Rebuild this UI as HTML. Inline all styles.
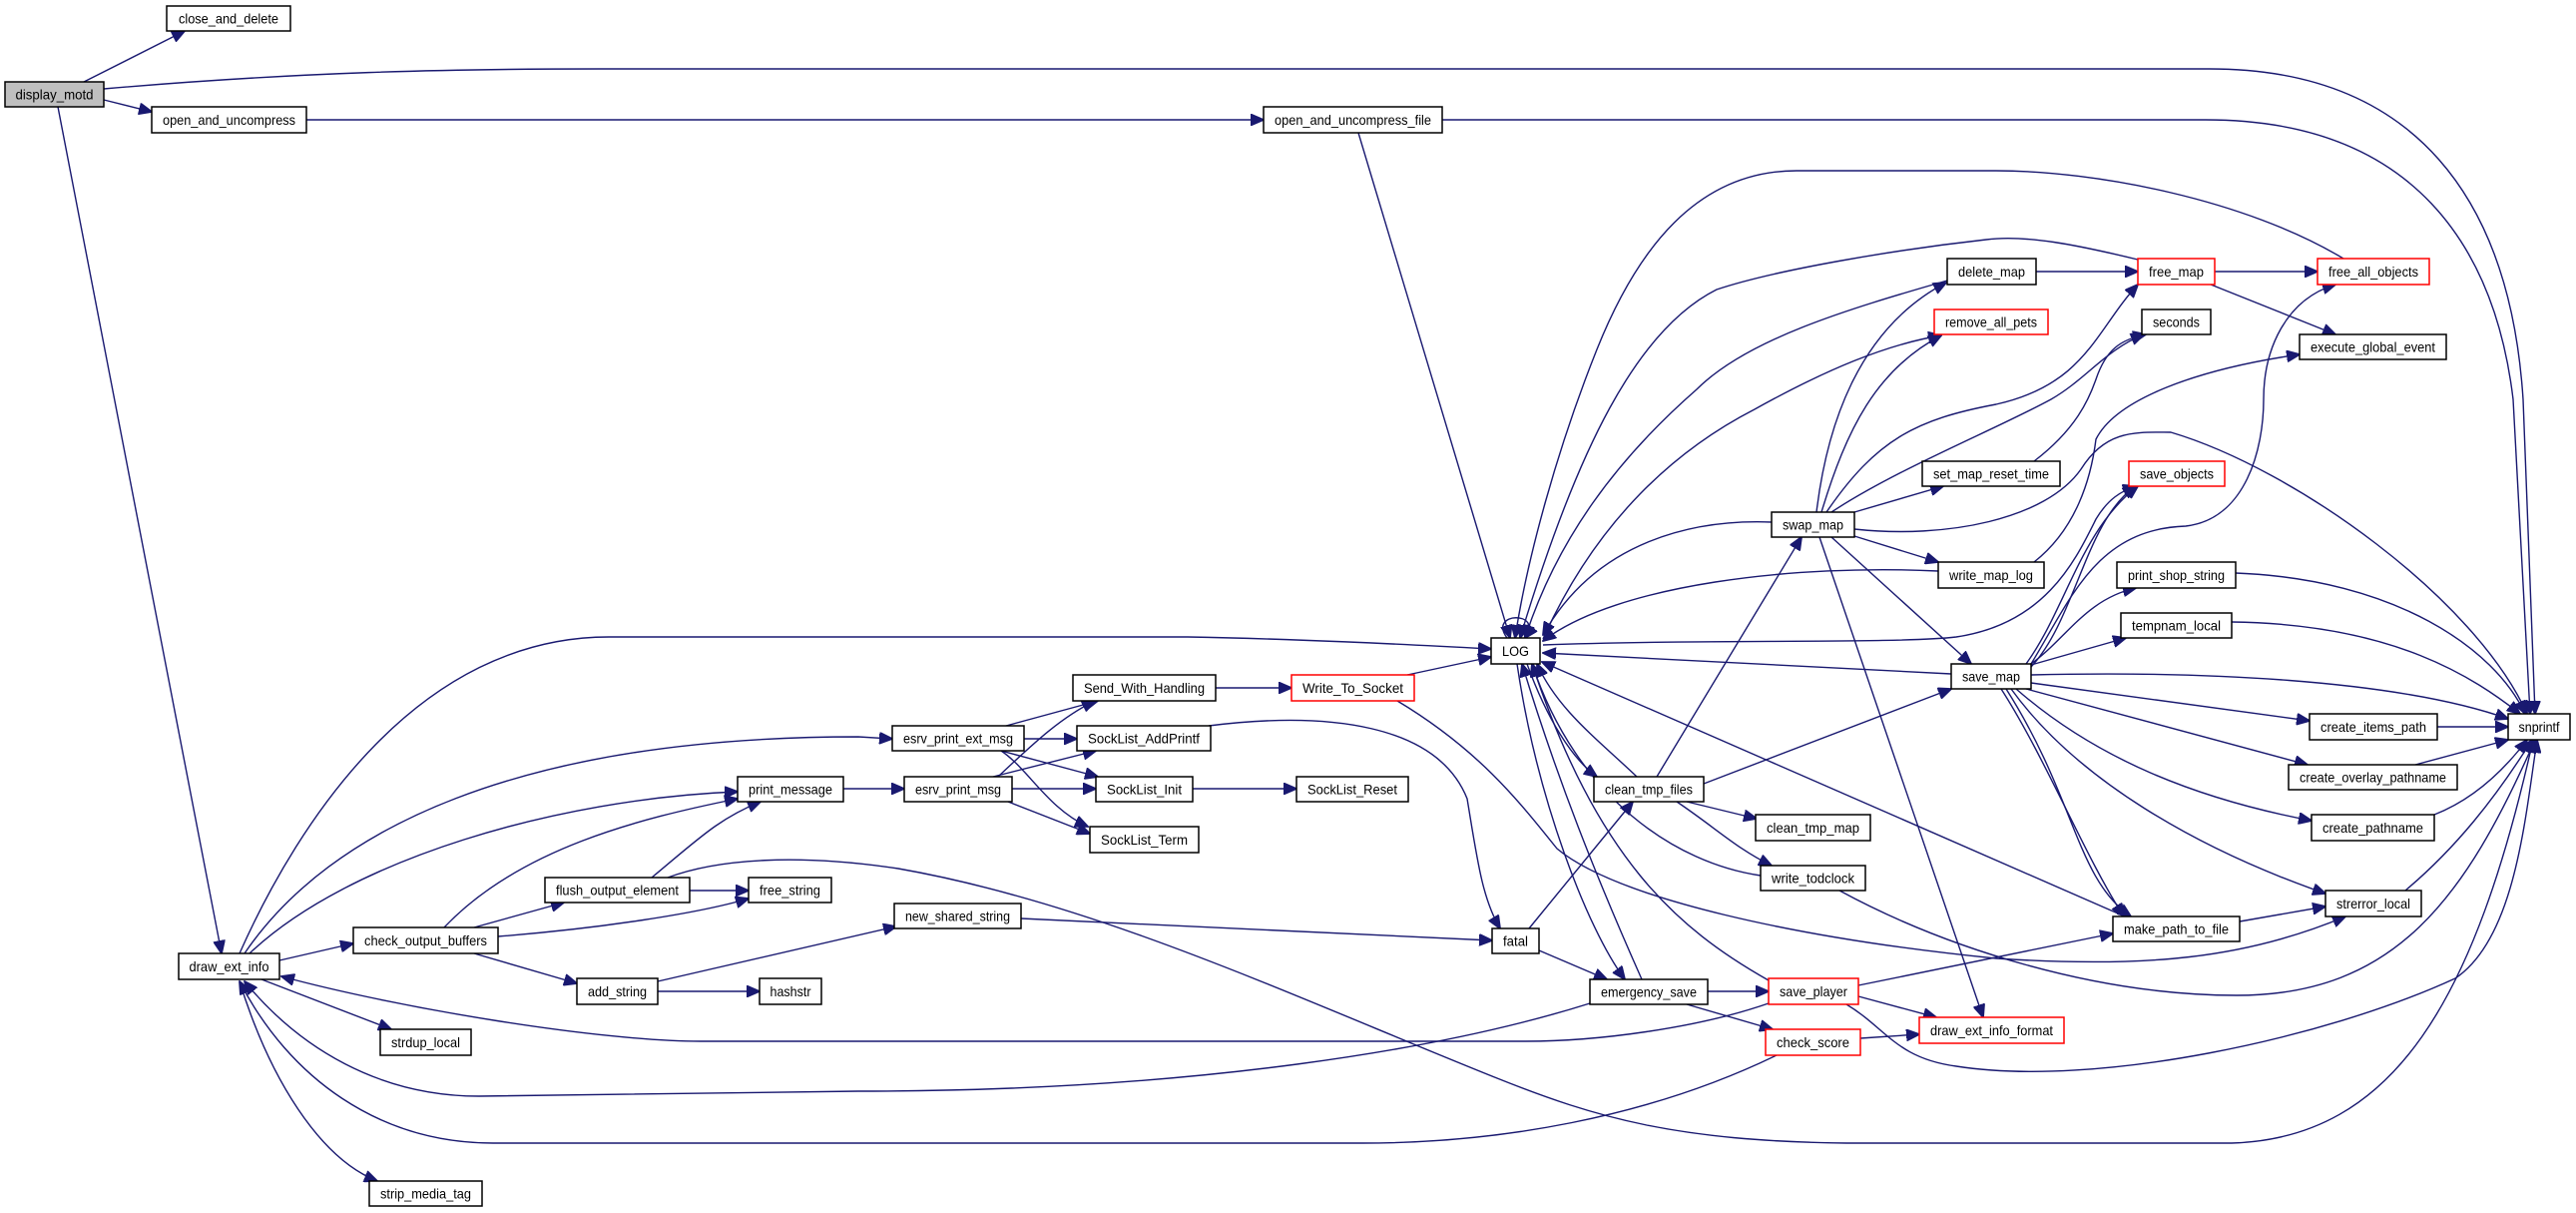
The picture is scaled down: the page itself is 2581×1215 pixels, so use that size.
<!DOCTYPE html>
<html><head><meta charset="utf-8"><style>
html,body{margin:0;padding:0;background:#fff;}
svg{display:block;}
text{font-family:"Liberation Sans",sans-serif;font-size:14px;text-anchor:middle;fill:#000;}
rect{fill:#fff;stroke:#000;stroke-width:1.5;}
rect.r{stroke:#ff0000;}
rect.g{fill:#bfbfbf;}
path{fill:none;stroke:#191970;stroke-width:1.4;marker-end:url(#a);}
</style></head><body>
<svg width="2581" height="1215" viewBox="0 0 2581 1215" xmlns="http://www.w3.org/2000/svg">
<defs><marker id="a" markerUnits="userSpaceOnUse" markerWidth="14" markerHeight="12" refX="13" refY="6" orient="auto"><path d="M0,0 L14,6 L0,12 z" style="fill:#191970;stroke:#191970;stroke-width:1;marker-end:none"/></marker></defs>

<!-- edges -->
<path d="M84,82 L185,31"/>
<path d="M104,89 C300,72 450,69 600,69 L2214,69 C2420,69 2515,200 2528,400 L2540,715"/>
<path d="M104,100 L152,112"/>
<path d="M58,107 L222,955"/>
<path d="M307,120 L1266,120"/>
<path d="M1445,120 L2210,120 C2420,120 2500,250 2518,400 L2535,715"/>
<path d="M1361,133 L1513,639"/>
<path d="M240,955 C300,820 420,638 610,638 L1190,638 C1300,640 1400,645 1494,650"/>
<path d="M245,955 C330,830 520,738 860,738 L894,740"/>
<path d="M250,955 C350,860 560,800 739,793"/>
<path d="M445,929 C520,850 640,820 739,800"/>
<path d="M653,879 C700,840 720,820 762,803"/>
<path d="M280,962 L354,945"/>
<path d="M262,981 L392,1031"/>
<path d="M240,983 C270,1080 320,1160 378,1183"/>
<path d="M475,929 L565,904"/>
<path d="M499,938 C600,930 700,915 750,900"/>
<path d="M475,955 L578,985"/>
<path d="M691,892 L750,892"/>
<path d="M669,879 C720,860 800,855 900,870 C1100,905 1300,1000 1500,1080 C1600,1120 1680,1143 1850,1145 L2236,1145 C2400,1140 2480,1000 2538,741"/>
<path d="M1780,1057 C1650,1120 1500,1145 1365,1145 L494,1145 C380,1145 290,1080 240,983"/>
<path d="M1772,1005 C1700,1030 1600,1043 1529,1043 L702,1043 C600,1043 400,1010 282,978"/>
<path d="M1593,1005 C1450,1050 1200,1093 860,1093 L480,1098 C380,1098 300,1050 245,983"/>
<path d="M1008,727 L1100,702"/>
<path d="M1026,740 L1079,740"/>
<path d="M1003,752 L1100,778"/>
<path d="M1003,752 C1030,770 1050,810 1090,828"/>
<path d="M845,790 L906,790"/>
<path d="M1000,778 C1030,750 1060,720 1097,702"/>
<path d="M995,778 L1098,752"/>
<path d="M1014,790 L1098,790"/>
<path d="M1010,803 L1092,835"/>
<path d="M1218,689 L1294,689"/>
<path d="M1410,676 L1494,658"/>
<path d="M1400,702 C1480,750 1520,800 1560,850 C1620,900 1800,940 2000,960 C2150,970 2250,960 2350,918"/>
<path d="M1211,727 C1330,712 1440,725 1470,800 C1480,860 1485,900 1503,930"/>
<path d="M1195,790 L1299,790"/>
<path d="M1023,920 L1495,942"/>
<path d="M659,983 L898,928"/>
<path d="M659,993 L761,993"/>
<path d="M1542,952 L1610,981"/>
<path d="M1532,930 L1636,803"/>
<path d="M1520,665 C1540,800 1590,930 1628,981"/>
<path d="M1645,981 C1600,880 1560,780 1525,665"/>
<path d="M1711,993 L1772,993"/>
<path d="M1690,1006 L1776,1031"/>
<path d="M1772,982 C1680,930 1600,860 1535,665"/>
<path d="M1862,987 L2117,935"/>
<path d="M1862,998 L1940,1019"/>
<path d="M1850,1006 C1890,1030 1900,1060 1960,1068 C2100,1090 2330,1040 2460,980 C2520,940 2530,820 2542,741"/>
<path d="M1864,1040 L1923,1036"/>
<path d="M1823,538 L1987,1019"/>
<path d="M1530,665 C1550,720 1575,760 1600,778"/>
<path d="M1640,778 C1600,740 1560,710 1540,665"/>
<path d="M1660,778 L1805,538"/>
<path d="M1707,785 L1955,690"/>
<path d="M1690,803 L1760,820"/>
<path d="M1680,803 C1720,830 1740,850 1775,867"/>
<path d="M2129,918 L1545,663"/>
<path d="M1764,877 C1680,865 1580,800 1535,665"/>
<path d="M1843,892 C1950,950 2100,997 2241,997 C2400,997 2470,900 2540,741"/>
<path d="M1775,523 C1700,520 1600,540 1546,636"/>
<path d="M1942,572 C1800,565 1620,585 1546,642"/>
<path d="M1955,675 L1546,654"/>
<path d="M1546,646 C1700,640 1900,645 1960,638 C2050,625 2080,560 2100,520 C2112,500 2125,492 2140,487"/>
<path d="M2348,259 C2250,200 2100,171 2000,171 L1800,171 C1700,171 1640,250 1600,350 C1560,450 1530,560 1518,639"/>
<path d="M2142,260 C2080,245 2030,235 1990,240 C1900,250 1780,270 1720,290 C1640,330 1580,450 1523,639"/>
<path d="M1951,281 C1850,310 1750,340 1700,390 C1620,460 1560,540 1528,639"/>
<path d="M1546,640 C1600,520 1680,450 1758,410 C1830,370 1890,345 1945,336"/>
<path d="M1820,513 C1830,430 1860,330 1950,283"/>
<path d="M1825,513 C1850,430 1880,370 1945,336"/>
<path d="M1830,513 C1880,440 1920,420 2000,405 C2090,385 2100,330 2142,285"/>
<path d="M1835,513 C1900,470 2000,430 2055,400 C2090,380 2110,350 2148,335"/>
<path d="M2038,462 C2080,430 2093,400 2100,380 C2110,350 2125,340 2150,335"/>
<path d="M2038,563 C2080,530 2095,480 2100,440 C2120,400 2200,370 2304,355"/>
<path d="M2035,665 C2075,600 2100,530 2190,527 C2250,520 2268,450 2268,400 C2268,350 2290,300 2340,285"/>
<path d="M1858,530 C1950,540 2050,520 2085,470 C2110,430 2140,433 2175,433 C2300,470 2480,600 2532,715"/>
<path d="M2040,272 L2142,272"/>
<path d="M2219,272 L2322,272"/>
<path d="M2215,285 L2340,335"/>
<path d="M2035,668 C2080,620 2090,520 2140,487"/>
<path d="M2030,665 C2070,610 2085,530 2142,487"/>
<path d="M2035,665 C2070,640 2090,600 2140,589"/>
<path d="M2035,666 L2130,639"/>
<path d="M2035,676 C2200,672 2400,680 2513,720"/>
<path d="M2035,684 L2314,722"/>
<path d="M2030,690 L2312,766"/>
<path d="M2020,690 C2100,760 2200,800 2316,822"/>
<path d="M2015,690 C2080,780 2200,850 2330,895"/>
<path d="M2010,690 C2080,800 2080,880 2135,918"/>
<path d="M2005,690 C2050,760 2090,860 2128,918"/>
<path d="M1835,538 L1975,665"/>
<path d="M1858,537 L1942,563"/>
<path d="M1858,513 L1947,487"/>
<path d="M2240,574 C2400,580 2500,650 2530,715"/>
<path d="M2236,623 C2400,625 2480,680 2525,715"/>
<path d="M2442,728 L2513,728"/>
<path d="M2420,766 L2513,741"/>
<path d="M2439,816 C2480,800 2510,770 2532,741"/>
<path d="M2410,892 C2460,850 2500,800 2537,741"/>
<path d="M2244,923 L2330,908"/>
<path d="M1510,639 C1490,612 1548,612 1528,639"/>

<!-- nodes -->
<rect class="g" x="5" y="82" width="99" height="25"/><text x="54.5" y="99.5" textLength="78" lengthAdjust="spacingAndGlyphs">display_motd</text>
<rect x="167" y="6" width="124" height="25"/><text x="229" y="23.5" textLength="100" lengthAdjust="spacingAndGlyphs">close_and_delete</text>
<rect x="152" y="107" width="155" height="26"/><text x="229.5" y="125" textLength="133" lengthAdjust="spacingAndGlyphs">open_and_uncompress</text>
<rect x="1266" y="107" width="179" height="26"/><text x="1355.5" y="125" textLength="157" lengthAdjust="spacingAndGlyphs">open_and_uncompress_file</text>
<rect x="2513" y="715" width="62" height="26"/><text x="2544" y="733" textLength="41" lengthAdjust="spacingAndGlyphs">snprintf</text>
<rect x="179" y="955" width="101" height="26"/><text x="229.5" y="973" textLength="80" lengthAdjust="spacingAndGlyphs">draw_ext_info</text>
<rect x="354" y="929" width="145" height="26"/><text x="426.5" y="947" textLength="123" lengthAdjust="spacingAndGlyphs">check_output_buffers</text>
<rect x="546" y="879" width="145" height="25"/><text x="618.5" y="896.5" textLength="123" lengthAdjust="spacingAndGlyphs">flush_output_element</text>
<rect x="750" y="879" width="83" height="25"/><text x="791.5" y="896.5" textLength="61" lengthAdjust="spacingAndGlyphs">free_string</text>
<rect x="578" y="980" width="81" height="26"/><text x="618.5" y="998" textLength="59" lengthAdjust="spacingAndGlyphs">add_string</text>
<rect x="761" y="980" width="62" height="26"/><text x="792" y="998" textLength="41" lengthAdjust="spacingAndGlyphs">hashstr</text>
<rect x="381" y="1031" width="91" height="26"/><text x="426.5" y="1049" textLength="69" lengthAdjust="spacingAndGlyphs">strdup_local</text>
<rect x="370" y="1183" width="113" height="25"/><text x="426.5" y="1200.5" textLength="91" lengthAdjust="spacingAndGlyphs">strip_media_tag</text>
<rect x="739" y="778" width="106" height="25"/><text x="792" y="795.5" textLength="84" lengthAdjust="spacingAndGlyphs">print_message</text>
<rect x="894" y="727" width="132" height="25"/><text x="960" y="744.5" textLength="110" lengthAdjust="spacingAndGlyphs">esrv_print_ext_msg</text>
<rect x="906" y="778" width="108" height="25"/><text x="960" y="795.5" textLength="86" lengthAdjust="spacingAndGlyphs">esrv_print_msg</text>
<rect x="1075" y="676" width="143" height="26"/><text x="1146.5" y="694" textLength="121" lengthAdjust="spacingAndGlyphs">Send_With_Handling</text>
<rect x="1079" y="727" width="134" height="25"/><text x="1146" y="744.5" textLength="112" lengthAdjust="spacingAndGlyphs">SockList_AddPrintf</text>
<rect x="1098" y="778" width="97" height="25"/><text x="1146.5" y="795.5" textLength="75" lengthAdjust="spacingAndGlyphs">SockList_Init</text>
<rect x="1299" y="778" width="112" height="25"/><text x="1355" y="795.5" textLength="90" lengthAdjust="spacingAndGlyphs">SockList_Reset</text>
<rect x="1092" y="828" width="109" height="26"/><text x="1146.5" y="846" textLength="87" lengthAdjust="spacingAndGlyphs">SockList_Term</text>
<rect class="r" x="1294" y="676" width="123" height="26"/><text x="1355.5" y="694" textLength="101" lengthAdjust="spacingAndGlyphs">Write_To_Socket</text>
<rect x="1494" y="639" width="49" height="26"/><text x="1518.5" y="657" textLength="27" lengthAdjust="spacingAndGlyphs">LOG</text>
<rect x="896" y="905" width="127" height="25"/><text x="959.5" y="922.5" textLength="105" lengthAdjust="spacingAndGlyphs">new_shared_string</text>
<rect x="1495" y="930" width="47" height="25"/><text x="1518.5" y="947.5" textLength="25" lengthAdjust="spacingAndGlyphs">fatal</text>
<rect x="1593" y="981" width="118" height="25"/><text x="1652" y="998.5" textLength="96" lengthAdjust="spacingAndGlyphs">emergency_save</text>
<rect x="1597" y="778" width="110" height="25"/><text x="1652" y="795.5" textLength="88" lengthAdjust="spacingAndGlyphs">clean_tmp_files</text>
<rect x="1759" y="816" width="115" height="26"/><text x="1816.5" y="834" textLength="93" lengthAdjust="spacingAndGlyphs">clean_tmp_map</text>
<rect x="1764" y="867" width="105" height="25"/><text x="1816.5" y="884.5" textLength="83" lengthAdjust="spacingAndGlyphs">write_todclock</text>
<rect class="r" x="1772" y="980" width="90" height="26"/><text x="1817" y="998" textLength="68" lengthAdjust="spacingAndGlyphs">save_player</text>
<rect class="r" x="1769" y="1031" width="95" height="26"/><text x="1816.5" y="1049" textLength="73" lengthAdjust="spacingAndGlyphs">check_score</text>
<rect class="r" x="1923" y="1019" width="145" height="26"/><text x="1995.5" y="1037" textLength="123" lengthAdjust="spacingAndGlyphs">draw_ext_info_format</text>
<rect x="2117" y="918" width="127" height="25"/><text x="2180.5" y="935.5" textLength="105" lengthAdjust="spacingAndGlyphs">make_path_to_file</text>
<rect x="2330" y="892" width="96" height="26"/><text x="2378" y="910" textLength="74" lengthAdjust="spacingAndGlyphs">strerror_local</text>
<rect x="2316" y="816" width="123" height="26"/><text x="2377.5" y="834" textLength="101" lengthAdjust="spacingAndGlyphs">create_pathname</text>
<rect x="2293" y="766" width="169" height="25"/><text x="2377.5" y="783.5" textLength="147" lengthAdjust="spacingAndGlyphs">create_overlay_pathname</text>
<rect x="2314" y="715" width="128" height="26"/><text x="2378" y="733" textLength="106" lengthAdjust="spacingAndGlyphs">create_items_path</text>
<rect x="1955" y="665" width="80" height="25"/><text x="1995" y="682.5" textLength="58" lengthAdjust="spacingAndGlyphs">save_map</text>
<rect x="2125" y="614" width="111" height="25"/><text x="2180.5" y="631.5" textLength="89" lengthAdjust="spacingAndGlyphs">tempnam_local</text>
<rect x="2121" y="563" width="119" height="26"/><text x="2180.5" y="581" textLength="97" lengthAdjust="spacingAndGlyphs">print_shop_string</text>
<rect x="1942" y="563" width="106" height="26"/><text x="1995" y="581" textLength="84" lengthAdjust="spacingAndGlyphs">write_map_log</text>
<rect x="1775" y="513" width="83" height="25"/><text x="1816.5" y="530.5" textLength="61" lengthAdjust="spacingAndGlyphs">swap_map</text>
<rect x="1926" y="462" width="138" height="25"/><text x="1995" y="479.5" textLength="116" lengthAdjust="spacingAndGlyphs">set_map_reset_time</text>
<rect class="r" x="2133" y="462" width="96" height="25"/><text x="2181" y="479.5" textLength="74" lengthAdjust="spacingAndGlyphs">save_objects</text>
<rect x="1951" y="259" width="89" height="26"/><text x="1995.5" y="277" textLength="67" lengthAdjust="spacingAndGlyphs">delete_map</text>
<rect class="r" x="2142" y="259" width="77" height="26"/><text x="2180.5" y="277" textLength="55" lengthAdjust="spacingAndGlyphs">free_map</text>
<rect class="r" x="2322" y="259" width="112" height="26"/><text x="2378" y="277" textLength="90" lengthAdjust="spacingAndGlyphs">free_all_objects</text>
<rect class="r" x="1938" y="310" width="114" height="25"/><text x="1995" y="327.5" textLength="92" lengthAdjust="spacingAndGlyphs">remove_all_pets</text>
<rect x="2146" y="310" width="69" height="25"/><text x="2180.5" y="327.5" textLength="47" lengthAdjust="spacingAndGlyphs">seconds</text>
<rect x="2304" y="335" width="147" height="25"/><text x="2377.5" y="352.5" textLength="125" lengthAdjust="spacingAndGlyphs">execute_global_event</text>
</svg>
</body></html>
